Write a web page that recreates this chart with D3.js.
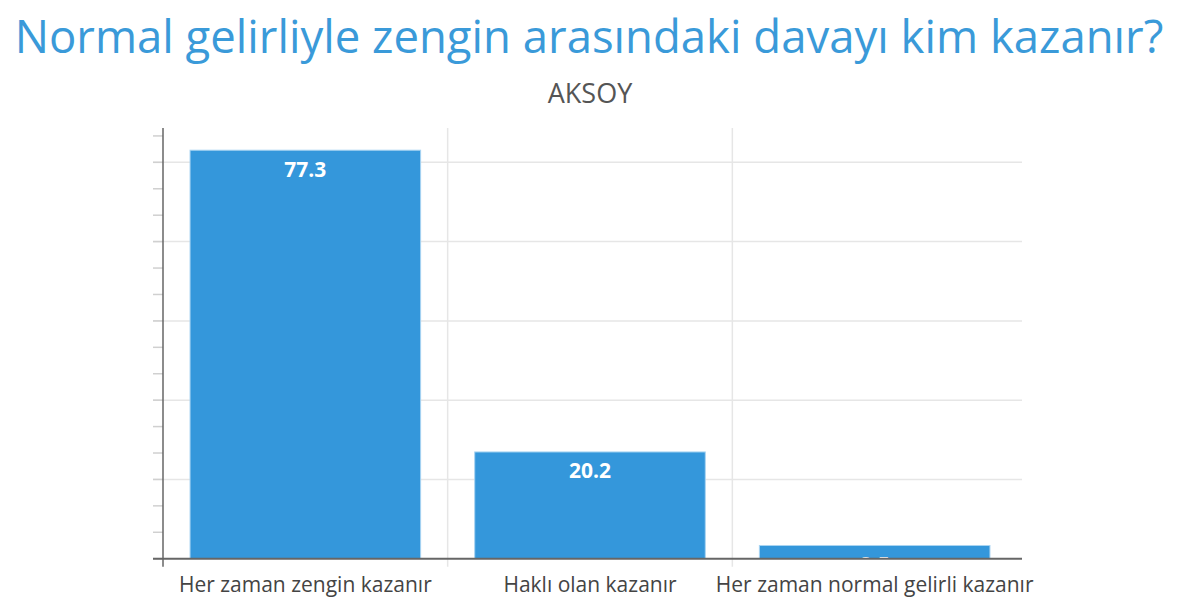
<!DOCTYPE html>
<html>
<head>
<meta charset="utf-8">
<script src="https://cdn.jsdelivr.net/npm/d3@7"></script>
<style>
  body { margin: 0; background: #fff; font-family: "Open Sans", sans-serif; }
</style>
</head>
<body>
<div id="chart"></div>
<script>
var categories = ['Her zaman zengin kazanır', 'Haklı olan kazanır', 'Her zaman normal gelirli kazanır'];
var values = [77.3, 20.2, 2.5];
var gridTicks = [15, 30, 45, 60, 75];
var minorTicks = d3.range(0, 85, 5);

var width = 1200, height = 615;
var mLeft = 163, mRight = 1017, mTop = 128, mBottom = 558.7, gridEnd = 1022;

var svg = d3.select('#chart')
  .append('svg')
  .attr('width', width)
  .attr('height', height);

// title
svg.append('text')
  .attr('x', 589)
  .attr('y', 53)
  .attr('text-anchor', 'middle')
  .style('font-size', '45.5px')
  .style('fill', '#3a9ad9')
  .text('Normal gelirliyle zengin arasındaki davayı kim kazanır?');

svg.append('text')
  .attr('x', 590)
  .attr('y', 103)
  .attr('text-anchor', 'middle')
  .style('font-size', '27px')
  .style('fill', '#555')
  .text('AKSOY');

var x = d3.scaleBand()
  .domain(categories)
  .range([mLeft, mRight])
  .padding(0);

var y = d3.scaleLinear()
  .domain([0, 81.5])
  .range([mBottom, mTop]);

// horizontal grid
svg.selectAll('.hgrid')
  .data(gridTicks)
  .enter()
  .append('line')
  .attr('class', 'hgrid')
  .attr('x1', mLeft - 10)
  .attr('x2', gridEnd)
  .attr('y1', d => y(d))
  .attr('y2', d => y(d))
  .style('stroke', '#e6e6e6')
  .style('stroke-width', 1.5);

// vertical grid at category boundaries
svg.selectAll('.vgrid')
  .data(categories.slice(1))
  .enter()
  .append('line')
  .attr('class', 'vgrid')
  .attr('x1', d => x(d))
  .attr('x2', d => x(d))
  .attr('y1', mTop)
  .attr('y2', mBottom + 8)
  .style('stroke', '#e6e6e6')
  .style('stroke-width', 1.5);

// minor ticks on y axis
svg.selectAll('.ytick')
  .data(minorTicks)
  .enter()
  .append('line')
  .attr('class', 'ytick')
  .attr('x1', mLeft - 10)
  .attr('x2', mLeft)
  .attr('y1', d => y(d))
  .attr('y2', d => y(d))
  .style('stroke', '#d0d0d0')
  .style('stroke-width', 1.5);

svg.append('clipPath')
  .attr('id', 'plotclip')
  .append('rect')
  .attr('x', mLeft)
  .attr('y', mTop)
  .attr('width', gridEnd - mLeft)
  .attr('height', mBottom - mTop);

var plot = svg.append('g').attr('clip-path', 'url(#plotclip)');

var barW = x.bandwidth() * 0.81;

plot.selectAll('.bar')
  .data(values)
  .enter()
  .append('rect')
  .attr('class', 'bar')
  .attr('x', (d, i) => x(categories[i]) + (x.bandwidth() - barW) / 2)
  .attr('y', d => y(d))
  .attr('width', barW)
  .attr('height', d => mBottom - y(d))
  .style('fill', '#3497db')
  .style('stroke', '#a9d4f2')
  .style('stroke-width', 1);

plot.selectAll('.lbl')
  .data(values)
  .enter()
  .append('text')
  .attr('class', 'lbl')
  .attr('x', (d, i) => x(categories[i]) + x.bandwidth() / 2)
  .attr('y', d => y(d) + 26.5)
  .attr('text-anchor', 'middle')
  .style('font-size', '21px')
  .style('font-weight', 'bold')
  .style('fill', '#fff')
  .text(d => d);

// axes lines
svg.append('line')
  .attr('x1', mLeft - 10)
  .attr('x2', gridEnd)
  .attr('y1', mBottom)
  .attr('y2', mBottom)
  .style('stroke', '#666')
  .style('stroke-width', 2);

svg.append('line')
  .attr('x1', mLeft)
  .attr('x2', mLeft)
  .attr('y1', mTop)
  .attr('y2', mBottom + 8)
  .style('stroke', '#666')
  .style('stroke-width', 1.5);

// category labels
svg.selectAll('.cat')
  .data(categories)
  .enter()
  .append('text')
  .attr('class', 'cat')
  .attr('x', d => x(d) + x.bandwidth() / 2)
  .attr('y', 592)
  .attr('text-anchor', 'middle')
  .style('font-size', '21px')
  .style('fill', '#444')
  .text(d => d);
</script>
</body>
</html>
